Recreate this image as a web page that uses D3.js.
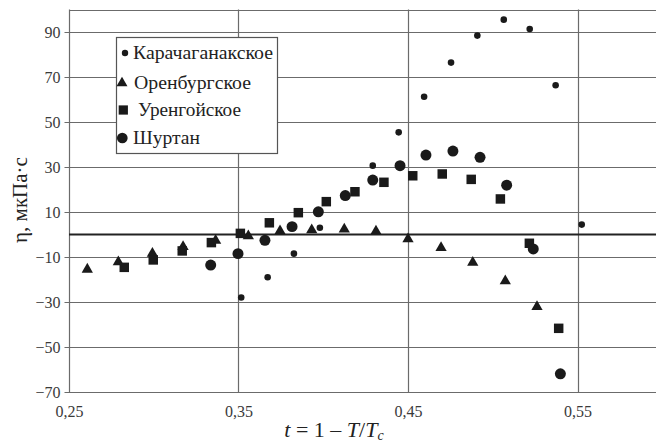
<!DOCTYPE html>
<html>
<head>
<meta charset="utf-8">
<script src="https://cdn.jsdelivr.net/npm/d3@7"></script>
<style>
  body { margin: 0; background: #fff; }
  svg text { font-family: "Liberation Serif", "Times New Roman", Times, Tinos, "DejaVu Serif", "Noto Serif", serif; }
</style>
</head>
<body>
<div id="chart"></div>
<script>
// data
const seriesNames = ["Карачаганакское", "Оренбургское", "Уренгойское", "Шуртан"]

const karX = [0.3516, 0.3672, 0.3827, 0.398, 0.4292, 0.4445, 0.4595, 0.4754, 0.4909, 0.5065, 0.5218, 0.5371, 0.5525]
const karY = [-28, -19, -8.5, 3, 30.6, 45.4, 61.2, 76.4, 88.4, 95.5, 91.3, 66.3, 4.4]

const orenX = [0.2608, 0.2791, 0.2992, 0.3173, 0.3365, 0.3558, 0.3745, 0.3932, 0.4124, 0.4311, 0.4500, 0.4695, 0.4882, 0.5074, 0.5261]
const orenY = [-15.5, -12.2, -8.4, -5.4, -2.7, -0.7, 1.6, 2.0, 2.3, 1.4, -2.0, -5.9, -12.4, -20.7, -32.1]

const urenX = [0.2826, 0.2997, 0.3168, 0.3340, 0.3511, 0.3682, 0.3853, 0.4018, 0.4187, 0.4358, 0.4528, 0.4702, 0.4873, 0.5045, 0.5216, 0.5389]
const urenY = [-14.6, -11.3, -7.3, -3.6, 0.5, 5.2, 9.7, 14.6, 19.0, 23.2, 26.1, 26.9, 24.5, 15.8, -3.9, -41.7]

const shurX = [0.3336, 0.3497, 0.3656, 0.3816, 0.3971, 0.4130, 0.4292, 0.4453, 0.4606, 0.4765, 0.4925, 0.5082, 0.5239, 0.5399]
const shurY = [-13.6, -8.5, -2.6, 3.5, 10.1, 17.3, 24.2, 30.6, 35.3, 37.1, 34.3, 21.9, -6.4, -61.9]

const xTicks = [0.25, 0.35, 0.45, 0.55]
const yTicks = [-70, -50, -30, -10, 10, 30, 50, 70, 90]

const width = 656, height = 443
const margin = {top: 9.5, left: 69, bottom: 51}
const serif = "Liberation Serif, Times New Roman, Times, serif"

const svg = d3.select("#chart").append("svg")
  .attr("width", width)
  .attr("height", height)

const x = d3.scaleLinear().domain([0.25, 0.6]).range([margin.left, margin.left + 593.25])
const y = d3.scaleLinear().domain([-70, 100]).range([height - margin.bottom, margin.top])

const gridColor = "#6b6b6b"
const ink = "#1a1a1a"

// grid
svg.append("g")
  .selectAll("line")
  .data(yTicks.concat([100]))
  .enter().append("line")
    .attr("x1", margin.left).attr("x2", width)
    .attr("y1", d => Math.round(y(d)) + 0.5).attr("y2", d => Math.round(y(d)) + 0.5)
    .attr("stroke", gridColor).attr("stroke-width", 1.2)

svg.append("g")
  .selectAll("line")
  .data(xTicks)
  .enter().append("line")
    .attr("x1", d => Math.round(x(d)) + 0.5).attr("x2", d => Math.round(x(d)) + 0.5)
    .attr("y1", y(100)).attr("y2", y(-70))
    .attr("stroke", gridColor).attr("stroke-width", 1.2)

// zero line
svg.append("line")
  .attr("x1", margin.left).attr("x2", width)
  .attr("y1", y(0)).attr("y2", y(0))
  .attr("stroke", "#222").attr("stroke-width", 2)

// y axis ticks + labels
const yAxis = d3.axisLeft(y).tickValues(yTicks).tickSize(5).tickPadding(4)
const gy = svg.append("g")
  .attr("transform", "translate(" + (Math.round(x(0.25)) + 0.5) + ",0)")
  .call(yAxis)
  .attr("font-family", serif)
  .attr("font-size", 16)
gy.select(".domain").remove()
gy.selectAll("line").attr("stroke", gridColor)
gy.selectAll("text").attr("fill", "#3a3a3a")

// x axis labels
const xAxis = d3.axisBottom(x).tickValues(xTicks).tickSize(0).tickPadding(14)
  .tickFormat(d => d3.format(".2f")(d).replace(".", ","))
const gx = svg.append("g")
  .attr("transform", "translate(0," + y(-70) + ")")
  .call(xAxis)
  .attr("font-family", serif)
  .attr("font-size", 16)
gx.select(".domain").remove()
gx.selectAll("text").attr("fill", "#3a3a3a")

// axis titles
svg.append("text")
  .attr("transform", "translate(27,200) rotate(-90)")
  .attr("text-anchor", "middle")
  .attr("font-size", 21)
  .attr("fill", "#222")
  .text("η, мкПа·с")

const xt = svg.append("text")
  .attr("x", 334).attr("y", 437)
  .attr("text-anchor", "middle")
  .attr("font-size", 22)
  .attr("fill", "#222")
xt.append("tspan").attr("font-style", "italic").text("t")
xt.append("tspan").text(" = 1 – ")
xt.append("tspan").attr("font-style", "italic").text("T")
xt.append("tspan").text("/")
xt.append("tspan").attr("font-style", "italic").text("T")
xt.append("tspan").attr("font-style", "italic").attr("font-size", 14).attr("dy", 3).text("c")

// series
const series = [
  {name: seriesNames[0], xs: karX, ys: karY, type: d3.symbolCircle, size: 34},
  {name: seriesNames[1], xs: orenX, ys: orenY, type: d3.symbolTriangle, size: 55},
  {name: seriesNames[2], xs: urenX, ys: urenY, type: d3.symbolSquare, size: 90},
  {name: seriesNames[3], xs: shurX, ys: shurY, type: d3.symbolCircle, size: 95}
]

series.forEach(s => {
  const pts = s.xs.map((v, i) => ({x: v, y: s.ys[i]}))
  svg.append("g")
    .selectAll("path")
    .data(pts)
    .enter().append("path")
      .attr("transform", d => "translate(" + x(d.x) + "," + y(d.y) + ")")
      .attr("d", d3.symbol().type(s.type).size(s.size))
      .attr("fill", ink)
})

// legend
const lg = svg.append("g")
lg.append("rect")
  .attr("x", 116.5).attr("y", 37.5)
  .attr("width", 161).attr("height", 116)
  .attr("fill", "#fff")
  .attr("stroke", "#555").attr("stroke-width", 1.2)

const legendSym = [{dx: 125, dy: 53}, {dx: 122, dy: 83}, {dx: 123.3, dy: 110}, {dx: 122.3, dy: 138}]
const legendTextX = [133, 134, 138, 133]
const legendTextW = [140, 117, 103, 67]
series.forEach((s, i) => {
  lg.append("path")
    .attr("transform", "translate(" + legendSym[i].dx + "," + legendSym[i].dy + ")")
    .attr("d", d3.symbol().type(s.type).size(s.size * 0.95))
    .attr("fill", ink)
  lg.append("text")
    .attr("x", legendTextX[i])
    .attr("y", legendSym[i].dy + 6)
    .attr("font-size", 19)
    .attr("textLength", legendTextW[i])
    .attr("lengthAdjust", "spacingAndGlyphs")
    .attr("fill", "#222")
    .text(s.name)
})
</script>
</body>
</html>
